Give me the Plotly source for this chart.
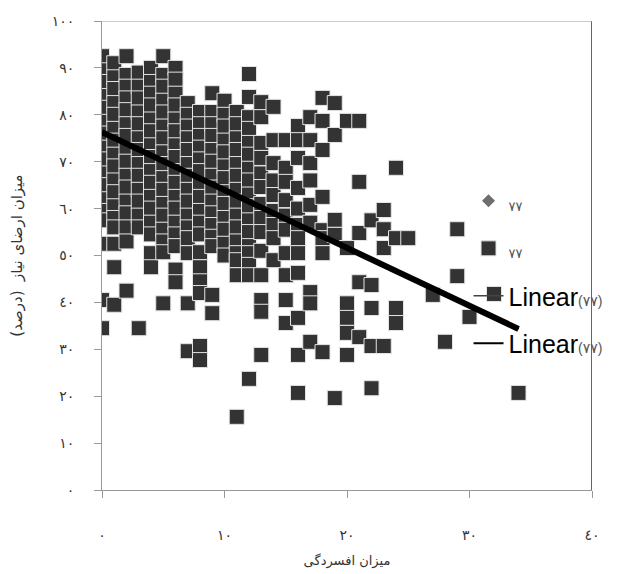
import plotly.graph_objects as go

# ---- data ----
depression = (
    [0] * 17 + [1] * 17 + [2] * 16 + [3] * 14 + [4] * 16 + [5] * 17 + [6] * 17 +
    [7] * 15 + [8] * 17 + [9] * 15 + [10] * 13 + [11] * 15 + [12] * 17 +
    [13] * 14 + [14] * 9 + [15] * 10 + [16] * 12 + [17] * 9 + [18] * 8 +
    [19] * 5 + [20] * 6 + [21] * 5 + [22] * 5 + [23] * 4 + [24] * 4 + [25] * 1 +
    [27] * 1 + [28] * 1 + [29] * 2 + [30] * 1 + [32] * 1 + [34] * 1
)
satisfaction = [
    # 0
    92.5, 89.5, 87, 84, 81.5, 78.5, 76, 73, 70.5, 67.5, 65, 62, 59.5, 57.5, 52.5, 40.5, 34.5,
    # 1
    91, 88, 85.5, 82.5, 80, 77, 74.5, 71.5, 69, 66, 63.5, 60.5, 58, 56, 52.5, 47.5, 39.5,
    # 2
    92.5, 88.5, 86, 83.5, 81, 78, 75.5, 72.5, 70, 67, 64.5, 61.5, 59, 56, 53, 42.5,
    # 3
    89, 86, 83.5, 80.5, 78, 75, 72.5, 69.5, 67, 64, 61.5, 58.5, 56, 34.5,
    # 4
    90, 87, 84.5, 82, 79, 76.5, 73.5, 71, 68, 65.5, 62.5, 60, 57, 54.5, 50.5, 47.5,
    # 5
    92.5, 88.5, 86, 83, 80.5, 77.5, 75, 72, 69.5, 66.5, 64, 61, 58.5, 55.5, 53, 50.7, 39.8,
    # 6
    90, 87.5, 84.5, 82, 79, 76.5, 73.5, 71, 68, 65.5, 62.5, 60, 57, 54.5, 52, 47, 44.3,
    # 7
    82.5, 80, 77.5, 75, 72.5, 69.5, 67, 64, 61.5, 58.5, 56, 53.7, 50.5, 39.8, 29.6,
    # 8
    80.6, 78, 75.5, 73, 70.5, 68, 65, 62.5, 59.5, 57, 54.5, 50.7, 47.5, 44.5, 42, 30.7, 27.7,
    # 9
    84.6, 80.6, 78, 75.5, 72.5, 70, 67, 64.5, 61.5, 59, 56.5, 54, 52, 41.6, 37.7,
    # 10
    83, 80, 77.5, 74.5, 72, 69, 66.5, 63.5, 61, 58, 55.5, 52.5, 50,
    # 11
    80.6, 78, 75, 72.5, 69.5, 67, 64, 61.5, 58.5, 56, 53, 50.5, 49, 45.8, 15.6,
    # 12
    88.7, 83.8, 79.5, 77, 74, 71.5, 68.5, 66, 63, 60.5, 57.5, 55, 52, 50.5, 48, 45.8, 23.7,
    # 13
    82.7, 79.5, 74, 70.8, 67.5, 64.6, 61, 58, 55, 51, 45.8, 40.5, 38, 28.8,
    # 14
    81.7, 74.6, 69.7, 66, 62.9, 59.5, 56.5, 53.7, 49,
    # 15
    74.6, 68.7, 65.7, 61.8, 58.5, 55.5, 50.5, 45.8, 40.5, 35.6,
    # 16
    77.6, 74.6, 70.8, 64.4, 60, 56.5, 53.7, 50.5, 46.3, 36.7, 28.8, 20.7,
    # 17
    79.5, 74.6, 69.7, 66, 60.8, 57, 42.2, 39.8, 31.6,
    # 18
    83.6, 78.7, 72.5, 62.5, 55.4, 53.7, 50.5, 29.4,
    # 19
    82.5, 75.7, 57.6, 54.4, 19.6,
    # 20
    78.7, 51.6, 39.8, 36.7, 33.5, 28.8,
    # 21
    78.7, 65.7, 54.8, 44.3, 32.6,
    # 22
    57.5, 43.7, 38.8, 30.7, 21.7,
    # 23
    59.7, 55.6, 51.6, 30.7,
    # 24
    68.7, 53.7, 38.8, 35.6,
    # 25
    53.7,
    # 27
    41.6,
    # 28
    31.6,
    # 29
    55.6, 45.6,
    # 30
    36.9,
    # 32
    41.8,
    # 34
    20.7,
]

trend_intercept = 76.3
trend_slope = -1.234

x_ticks = [0, 10, 20, 30, 40]
x_tick_text = ["٠", "١٠", "٢٠", "٣٠", "٤٠"]
y_ticks = [0, 10, 20, 30, 40, 50, 60, 70, 80, 90, 100]
y_tick_text = ["٠", "١٠", "٢٠", "٣٠", "٤٠", "٥٠", "٦٠", "٧٠", "٨٠", "٩٠", "١٠٠"]

series_label = "<span style='font-size:13px;color:#555'>٧٧</span>"
trend_label = "Linear<span style='font-size:14px;color:#555'>(٧٧)</span>"
x_title = "میزان افسردگی"
y_title = "میزان ارضای نیاز  (درصد)"

trend_x = [0, max(depression)]
trend_y = [trend_intercept + trend_slope * v for v in trend_x]

fig = go.Figure()
fig.add_trace(go.Scatter(
    x=depression, y=satisfaction, mode="markers", name=series_label,
    legendgroup="a",
    marker=dict(symbol="diamond", size=10, color="#6e6e6e"),
))
fig.add_trace(go.Scatter(
    x=depression, y=satisfaction, mode="markers", name=series_label,
    legendgroup="b",
    marker=dict(symbol="square", size=15, color="#333333",
                line=dict(color="#e4e4e4", width=1)),
))
fig.add_trace(go.Scatter(
    x=trend_x, y=trend_y, mode="lines", name=trend_label, legendgroup="c",
    line=dict(color="#444444", width=1.5),
))
fig.add_trace(go.Scatter(
    x=trend_x, y=trend_y, mode="lines", name=trend_label, legendgroup="d",
    line=dict(color="#000000", width=2),
))
fig.add_trace(go.Scatter(
    x=trend_x, y=trend_y, mode="lines", showlegend=False,
    line=dict(color="#000000", width=6),
))

axis_common = dict(
    showline=True, linecolor="#999999", linewidth=1,
    ticks="outside", ticklen=7, tickcolor="#999999",
    showgrid=False, zeroline=False, automargin=False,
    tickfont=dict(family="DejaVu Sans", size=14, color="#333333"),
)

fig.update_layout(
    width=624, height=574,
    margin=dict(l=94, r=40, t=13, b=92),
    paper_bgcolor="white", plot_bgcolor="white",
    xaxis=dict(range=[0, 40], tickvals=x_ticks, ticktext=x_tick_text,
               ticklabelstandoff=25,
               title=dict(text=x_title, standoff=14,
                          font=dict(family="DejaVu Sans", size=13, color="#333333")),
               **axis_common),
    yaxis=dict(range=[0, 100], tickvals=y_ticks, ticktext=y_tick_text,
               ticklabelstandoff=17,
               title=dict(text=y_title, standoff=28,
                          font=dict(family="DejaVu Sans", size=15, color="#333333")),
               **axis_common),
    legend=dict(x=0.748, y=0.665, xanchor="left", yanchor="top",
                bgcolor="rgba(0,0,0,0)", tracegroupgap=12,
                font=dict(family="Liberation Sans, DejaVu Sans", size=25, color="#000000")),
    shapes=[
        dict(type="line", xref="x", yref="y", x0=40, x1=40, y0=0, y1=100,
             line=dict(color="#333333", width=1.5)),
        dict(type="line", xref="x", yref="y", x0=0, x1=40, y0=100, y1=100,
             line=dict(color="#999999", width=1)),
    ],
    showlegend=True,
)

fig.write_html("out.html")
